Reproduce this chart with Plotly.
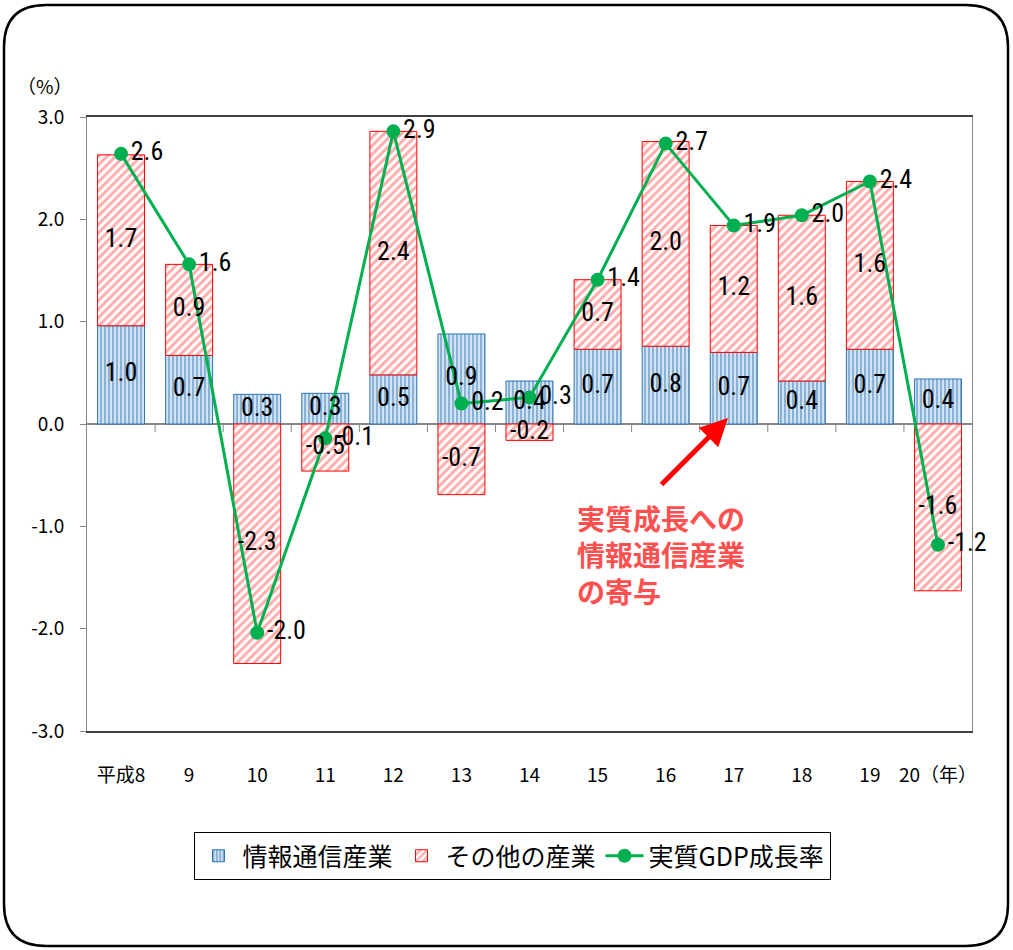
import plotly.graph_objects as go

# 年次（平成）
years = ["平成8", "9", "10", "11", "12", "13", "14", "15", "16", "17", "18", "19", "20（年）"]
# 情報通信産業の寄与（%ポイント）
ict = [0.96, 0.67, 0.29, 0.30, 0.48, 0.88, 0.42, 0.73, 0.76, 0.70, 0.42, 0.73, 0.44]
# その他の産業の寄与（%ポイント）
other = [1.67, 0.89, -2.34, -0.46, 2.38, -0.69, -0.16, 0.68, 2.00, 1.24, 1.62, 1.64, -1.63]
# 実質GDP成長率（%）
gdp = [2.64, 1.56, -2.04, -0.14, 2.86, 0.20, 0.26, 1.41, 2.74, 1.94, 2.04, 2.37, -1.18]
# 縦軸目盛
y_ticks = [-3, -2, -1, 0, 1, 2, 3]
y_tick_text = ["-3.0", "-2.0", "-1.0", "0.0", "1.0", "2.0", "3.0"]
Y_MIN, Y_MAX = -3, 3

W, H = 1013, 950
PL, PR, PT, PB = 87, 972, 117, 731

NUM_FONT = "Liberation Sans Narrow, Roboto Condensed, Noto Sans CJK JP"
JP_FONT = "Noto Sans CJK JP, Noto Sans CJK SC, sans-serif"


def px_x(p):
    return (p - PL) / (PR - PL)


def px_y(p):
    return (PB - p) / (PB - PT)


def fmt(v):
    return f"{v:.1f}"


# label anchors: middle of each stacked segment
ict_mid = [v / 2 for v in ict]
other_mid = [(a + b / 2) if b > 0 else b / 2 for a, b in zip(ict, other)]

fig = go.Figure()

fig.add_trace(go.Bar(
    x=years, y=ict, name="情報通信産業",
    marker=dict(color="#E4EEF8", line=dict(color="#2E75B6", width=1),
                pattern=dict(shape="|", fgcolor="#2E75B6", bgcolor="#E4EEF8",
                             size=4, solidity=0.6)),
    hoverinfo="skip",
))
fig.add_trace(go.Bar(
    x=years, y=other, name="その他の産業",
    marker=dict(color="white", line=dict(color="#FF0000", width=1),
                pattern=dict(shape="/", fgcolor="#FF5A5A", bgcolor="white",
                             size=6, solidity=0.5)),
    hoverinfo="skip",
))
fig.add_trace(go.Scatter(
    x=years, y=gdp, name="実質GDP成長率", mode="lines+markers+text",
    line=dict(color="#00B050", width=3),
    marker=dict(color="#00B050", size=14),
    text=[fmt(v) for v in gdp], textposition="middle right",
    textfont=dict(family=NUM_FONT, size=26, color="black"),
    cliponaxis=False,
    hoverinfo="skip",
))
# segment value labels
fig.add_trace(go.Scatter(
    x=years, y=ict_mid, mode="text", showlegend=False,
    text=[fmt(v) for v in ict],
    textfont=dict(family=NUM_FONT, size=26, color="black"),
    cliponaxis=False,
    hoverinfo="skip",
))
fig.add_trace(go.Scatter(
    x=years, y=other_mid, mode="text", showlegend=False,
    text=[fmt(v) for v in other],
    textfont=dict(family=NUM_FONT, size=26, color="black"),
    cliponaxis=False,
    hoverinfo="skip",
))

shapes = []
# small category-boundary ticks hanging below the zero line
zero_frac = (0 - Y_MIN) / (Y_MAX - Y_MIN)
tick_len = 8 / (PB - PT)
for i in range(len(years) - 1):
    shapes.append(dict(type="line", xref="x", yref="paper",
                       x0=i + 0.5, x1=i + 0.5, y0=zero_frac, y1=zero_frac - tick_len,
                       line=dict(color="#868686", width=1)))

# rounded outer frame
x0, x1, y0, y1, r = 4, 1008, 5, 946, 42


def pt(x, y):
    return f"{px_x(x):.5f},{px_y(y):.5f}"


frame = (f"M {pt(x0 + r, y0)} L {pt(x1 - r, y0)} Q {pt(x1, y0)} {pt(x1, y0 + r)} "
         f"L {pt(x1, y1 - r)} Q {pt(x1, y1)} {pt(x1 - r, y1)} "
         f"L {pt(x0 + r, y1)} Q {pt(x0, y1)} {pt(x0, y1 - r)} "
         f"L {pt(x0, y0 + r)} Q {pt(x0, y0)} {pt(x0 + r, y0)} Z")
shapes.append(dict(type="path", xref="paper", yref="paper", path=frame,
                   line=dict(color="black", width=2.5), layer="below"))

annotations = [
    dict(xref="paper", yref="paper", x=px_x(45), y=px_y(86), xanchor="center",
         yanchor="middle", text="（%）", showarrow=False,
         font=dict(family=JP_FONT, size=19, color="black")),
    dict(xref="paper", yref="paper", x=px_x(575), y=px_y(496), xanchor="left", yanchor="top",
         align="left", showarrow=False,
         text="<b>実質成長への<br>情報通信産業<br>の寄与</b>",
         font=dict(family=JP_FONT, size=28, color="#FF5050")),
    dict(xref="paper", yref="paper", x=px_x(728), y=px_y(418), text="",
         showarrow=True, ax=-68, ay=68, arrowcolor="#FF0000", arrowwidth=5,
         arrowhead=2, arrowsize=1.1, standoff=0),
]

fig.update_layout(
    width=W, height=H,
    margin=dict(l=PL, r=W - PR, t=PT, b=H - PB),
    paper_bgcolor="white", plot_bgcolor="white",
    barmode="relative", bargap=0.31,
    shapes=shapes, annotations=annotations,
    legend=dict(orientation="h", x=px_x(512), xanchor="center",
                y=px_y(832), yanchor="top",
                bordercolor="black", borderwidth=1, bgcolor="white",
                itemwidth=38,
                font=dict(family=JP_FONT, size=25, color="black")),
    font=dict(family=JP_FONT, color="black"),
)
fig.update_yaxes(range=[Y_MIN, Y_MAX], tickvals=y_ticks, ticktext=y_tick_text, showgrid=False,
                 showline=True, linecolor="#868686", linewidth=1, mirror=True,
                 ticks="outside", ticklen=6, tickcolor="#868686",
                 ticklabelstandoff=12,
                 zeroline=True, zerolinecolor="#868686", zerolinewidth=2,
                 tickfont=dict(family=JP_FONT, size=19, color="black"))
fig.update_xaxes(range=[-0.5, len(years) - 0.5], autorange=False,
                 showgrid=False, showline=True, linecolor="#404040", linewidth=1.5,
                 mirror=True, ticks="", ticklabelstandoff=26,
                 tickfont=dict(family=JP_FONT, size=19, color="black"))

fig.write_html("out.html")
